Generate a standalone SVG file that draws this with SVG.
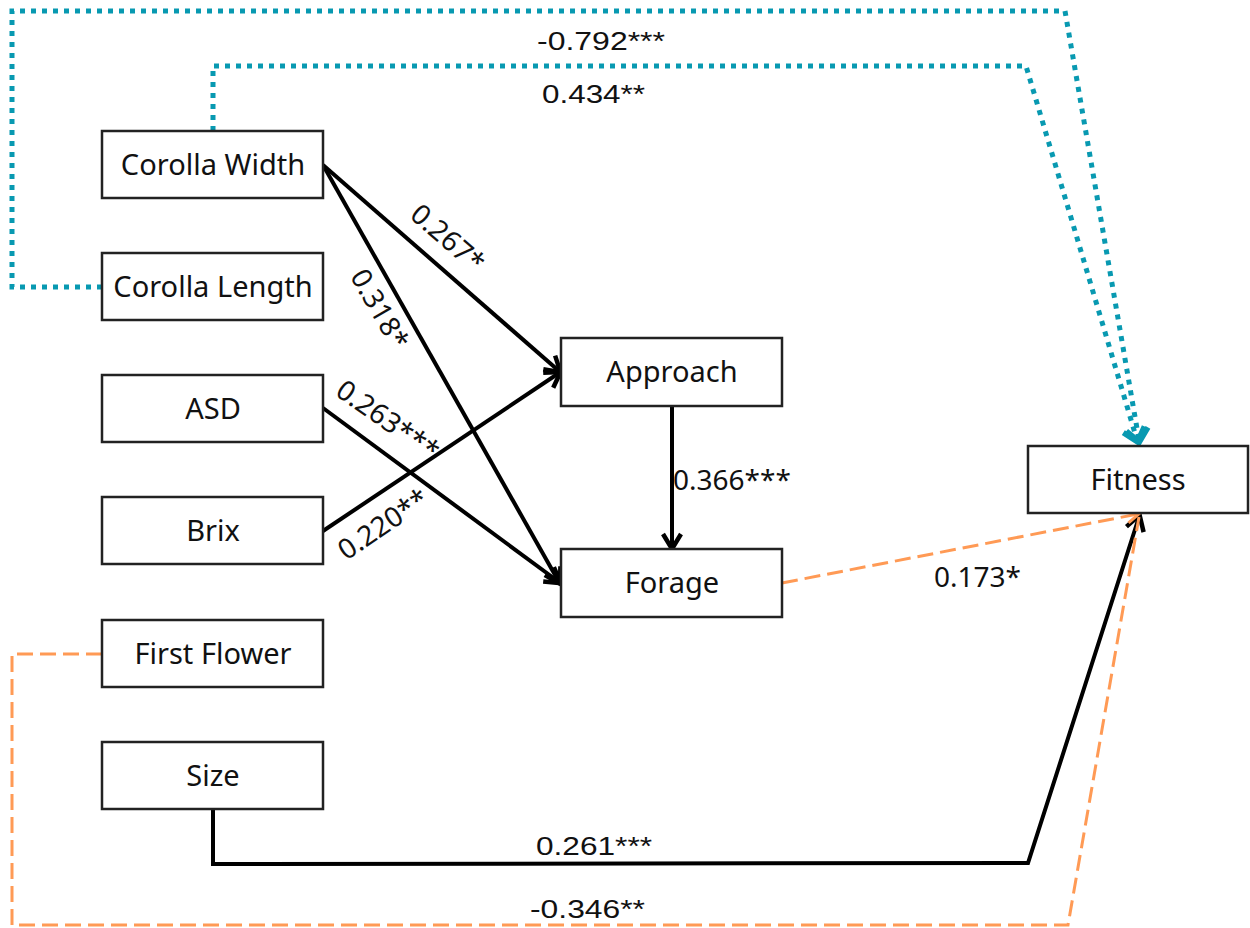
<svg xmlns="http://www.w3.org/2000/svg" width="1250" height="928" viewBox="0 0 1250 928">
<style>
.box{fill:#fff;stroke:#222;stroke-width:2.5}
.lbl{font-family:"Noto Sans","Open Sans",sans-serif;font-size:29px;fill:#111;text-anchor:middle}
.num{font-family:"Noto Sans","Open Sans",sans-serif;font-size:28px;fill:#111}
.num2{font-family:"Liberation Sans",Arial,sans-serif;font-size:25px;fill:#111}
.blk{fill:none;stroke:#000;stroke-width:4}
.teal{fill:none;stroke:#0899b1;stroke-width:5;stroke-dasharray:5 6}
.org{fill:none;stroke:#ff9a55;stroke-width:3;stroke-dasharray:16 7}
</style>
<defs>
<marker id="ab" markerUnits="userSpaceOnUse" markerWidth="34" markerHeight="34" viewBox="-24 -17 34 34" refX="-2" refY="0" orient="auto"><path d="M-15,-9 L0,0 L-15,9" fill="none" stroke="#000" stroke-width="4.5"/></marker>
<marker id="at" markerUnits="userSpaceOnUse" markerWidth="34" markerHeight="34" viewBox="-24 -17 34 34" refX="-2" refY="0" orient="auto"><path d="M-13,-11 L0,0 L-13,11" fill="none" stroke="#0899b1" stroke-width="5.5"/></marker>
<marker id="ao" markerUnits="userSpaceOnUse" markerWidth="30" markerHeight="30" viewBox="-20 -15 30 30" refX="-1" refY="0" orient="auto"><path d="M-12,-7 L0,0 L-12,7" fill="none" stroke="#ff9a55" stroke-width="3"/></marker>
</defs>
<rect width="1250" height="928" fill="#fff"/>
<g id="connectors">
<path class="teal" d="M102,287 L12,287 L12,11 L1065,11 L1139,440" marker-end="url(#at)"/>
<path class="teal" d="M213,131 L213,66 L1026,66 L1137,440" marker-end="url(#at)"/>
<path class="blk" d="M323,165 L559,371" marker-end="url(#ab)"/>
<path class="blk" d="M323,165 L559,582" marker-end="url(#ab)"/>
<path class="blk" d="M323,408 L559,582" marker-end="url(#ab)"/>
<path class="blk" d="M323,531 L559,373" marker-end="url(#ab)"/>
<path class="blk" d="M672,406 L672,547" marker-end="url(#ab)"/>
<path class="blk" d="M213,809 L213,864 L1028,863 L1139,517" marker-end="url(#ab)"/>
<path class="org" d="M782,583 L1138,514" marker-end="url(#ao)"/>
<path class="org" d="M102,654 L12,654 L12,925 L1068,925 L1139,517"/>
<text class="num2" x="537" y="50" textLength="128" lengthAdjust="spacingAndGlyphs">-0.792***</text>
<text class="num2" x="542" y="103" textLength="103" lengthAdjust="spacingAndGlyphs">0.434**</text>
<text class="num2" x="536" y="855" textLength="116" lengthAdjust="spacingAndGlyphs">0.261***</text>
<text class="num2" x="530" y="918" textLength="115" lengthAdjust="spacingAndGlyphs">-0.346**</text>
<text class="num" x="673" y="490">0.366***</text>
<text class="num" x="934" y="587">0.173*</text>
<text class="num" text-anchor="middle" transform="translate(448,238) rotate(41)" y="10">0.267*</text>
<text class="num" text-anchor="middle" transform="translate(380,309) rotate(60)" y="10">0.318*</text>
<text class="num" text-anchor="middle" transform="translate(388,420) rotate(35)" y="10">0.263***</text>
<text class="num" text-anchor="middle" transform="translate(383,524) rotate(-34)" y="10">0.220**</text>
</g>
<g id="corolla-width"><rect class="box" x="102" y="131" width="221" height="67"/><text class="lbl" x="213" y="175">Corolla Width</text></g>
<g id="corolla-length"><rect class="box" x="102" y="253" width="221" height="67"/><text class="lbl" x="213" y="297">Corolla Length</text></g>
<g id="asd"><rect class="box" x="102" y="375" width="221" height="67"/><text class="lbl" x="213" y="419">ASD</text></g>
<g id="brix"><rect class="box" x="102" y="497" width="221" height="67"/><text class="lbl" x="213" y="541">Brix</text></g>
<g id="first-flower"><rect class="box" x="102" y="620" width="221" height="67"/><text class="lbl" x="213" y="664">First Flower</text></g>
<g id="size"><rect class="box" x="102" y="742" width="221" height="67"/><text class="lbl" x="213" y="786">Size</text></g>
<g id="approach"><rect class="box" x="561" y="338" width="221" height="68"/><text class="lbl" x="672" y="382">Approach</text></g>
<g id="forage"><rect class="box" x="561" y="549" width="221" height="68"/><text class="lbl" x="672" y="593">Forage</text></g>
<g id="fitness"><rect class="box" x="1028" y="446" width="220" height="67"/><text class="lbl" x="1138" y="490">Fitness</text></g>
</svg>
